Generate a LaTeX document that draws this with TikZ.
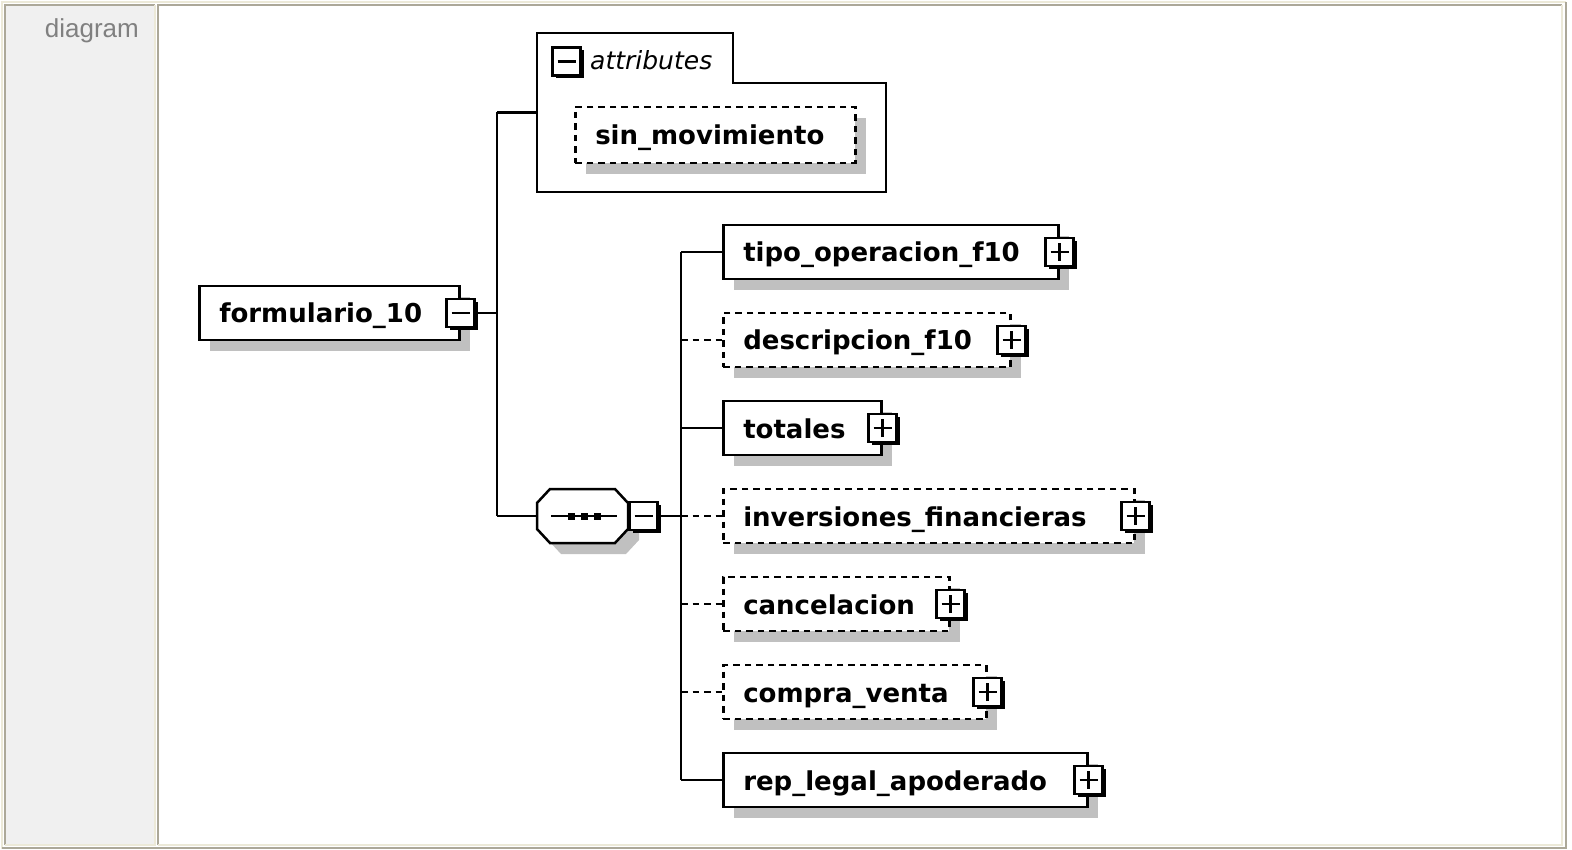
\documentclass[tikz,border=0pt]{standalone}
\usepackage{fontspec}
\setmainfont{DejaVu Sans}
\newfontfamily\labelfont{Liberation Sans}
\usetikzlibrary{calc}
\definecolor{shadowgray}{HTML}{C0C0C0}
\definecolor{panelgray}{HTML}{F0F0F0}
\definecolor{framebeige}{HTML}{ECE9D8}
\definecolor{framegray}{HTML}{ACA899}
\definecolor{labelgray}{HTML}{808080}
\begin{document}
\begin{tikzpicture}[x=1pt,y=-1pt,
  elshadow/.style={preaction={fill=shadowgray, transform canvas={shift={(11pt,-11pt)}}}},
  elem/.style={draw=black, line width=2.5pt, fill=white, elshadow,
    minimum height=54pt, inner xsep=20pt, inner ysep=0pt,
    text height=20pt, text depth=0pt, align=left, anchor=west,
    font=\fontsize{26}{30}\selectfont\bfseries},
  reqelem/.style={elem},
  optelem/.style={elem, dash pattern=on 6.5pt off 5pt},
  pmbox/.style={draw=black, line width=2.5pt, fill=white, minimum size=28pt, inner sep=0pt,
    preaction={fill=black, transform canvas={shift={(3pt,-3pt)}}}},
  plusbox/.style={pmbox, path picture={
    \draw[line width=2.2pt] (path picture bounding box.center) ++(-9pt,0pt) -- ++(18pt,0pt);
    \draw[line width=2.2pt] (path picture bounding box.center) ++(0pt,-9pt) -- ++(0pt,18pt);}},
  minusbox/.style={pmbox, path picture={
    \draw[line width=2.2pt] (path picture bounding box.center) ++(-9pt,0pt) -- ++(18pt,0pt);}},
  conn/.style={draw=black, line width=2.5pt},
  optconn/.style={conn, dash pattern=on 6.5pt off 5pt}
]
\useasboundingbox (0,0) rectangle (1572,850);
% ---- page frame ----
\fill[white] (0,0) rectangle (1572,850);
\fill[panelgray] (6,6) rectangle (155,845);
\draw[framebeige, line width=2pt] (2,849) -- (2,2) -- (1566,2);
\draw[framegray, line width=2pt] (2,848) -- (1566,848) -- (1566,2);
\draw[framegray, line width=2pt] (5,845) -- (5,5) -- (155,5);
\draw[framebeige, line width=2pt] (5,845) -- (155,845) -- (155,5);
\draw[framegray, line width=2pt] (157.5,845) -- (157.5,5) -- (1562,5);
\draw[framebeige, line width=2pt] (157.5,845) -- (1562,845) -- (1562,5);
\node[anchor=base east, inner sep=0pt, text=labelgray,
  font=\labelfont\fontsize{26}{30}\selectfont] (lbl) at (139,38) {diagram};

% ---- root element ----
\node[reqelem, text width=220pt] (fm) at (198,313) {formulario\_10};
\node[minusbox] (fmm) at (fm.east) {};

% ---- attributes group ----
\node[minimum width=349pt, minimum height=159pt, inner sep=0pt] (attrs) at (711.5,112.5) {};
\draw[line width=2.5pt, fill=white] (537,33) -- (733,33) -- (733,83) -- (886,83)
  -- (886,192) -- (537,192) -- cycle;
\node[minusbox] (attm) at (566.5,61.5) {};
\node[anchor=base west, inner sep=0pt, font=\fontsize{25}{30}\selectfont\itshape] (atxt) at (590,70) {attributes};
\node[optelem, minimum height=56pt, text width=240pt] (sinmov) at (574,135) {sin\_movimiento};

% ---- sequence compositor ----
\node[minimum width=91pt, minimum height=54pt, inner sep=0pt] (seq) at (582.5,516) {};
\fill[shadowgray, shift={(11,11)}] (537,503) -- (550,489) -- (615,489) -- (628,503)
  -- (628,529) -- (615,543) -- (550,543) -- (537,529) -- cycle;
\draw[line width=2.5pt, fill=white] (537,503) -- (550,489) -- (615,489) -- (628,503)
  -- (628,529) -- (615,543) -- (550,543) -- (537,529) -- cycle;
\draw[line width=2.5pt] (551,516) -- (617,516);
\foreach \cx in {571,584,597} \fill (\cx-3.5,512.5) rectangle (\cx+3.5,519.5);
\node[minusbox] (seqm) at (643.5,516) {};

% ---- child elements ----
\node[reqelem, text width=295pt] (c1) at (722,252) {tipo\_operacion\_f10};
\node[optelem, text width=247pt] (c2) at (722,340) {descripcion\_f10};
\node[reqelem, text width=118pt] (c3) at (722,428) {totales};
\node[optelem, text width=371pt] (c4) at (722,516) {inversiones\_financieras};
\node[optelem, text width=186pt] (c5) at (722,604) {cancelacion};
\node[optelem, text width=223pt] (c6) at (722,692) {compra\_venta};
\node[reqelem, text width=324pt] (c7) at (722,780) {rep\_legal\_apoderado};
\foreach \c in {c1,c2,c3,c4,c5,c6,c7} \node[plusbox] (\c p) at (\c.east) {};

% ---- connectors ----
\coordinate (ja) at (497,313);
\coordinate (jb) at (681,516);
\draw[conn] (fmm.east) -- (fmm.east -| ja);
\draw[conn] (attrs.west -| ja) -- (seq.west -| ja);
\draw[conn] (attrs.west -| ja) -- (attrs.west);
\draw[conn] (seq.west -| ja) -- (seq.west);
\draw[conn] (seqm.east) -- (seqm.east -| jb);
\draw[conn] (c1.west -| jb) -- (c7.west -| jb);
\draw[conn] (c1.west -| jb) -- (c1.west);
\draw[optconn] (c2.west -| jb) -- (c2.west);
\draw[conn] (c3.west -| jb) -- (c3.west);
\draw[optconn] (c4.west -| jb) -- (c4.west);
\draw[optconn] (c5.west -| jb) -- (c5.west);
\draw[optconn] (c6.west -| jb) -- (c6.west);
\draw[conn] (c7.west -| jb) -- (c7.west);
\end{tikzpicture}
\end{document}
